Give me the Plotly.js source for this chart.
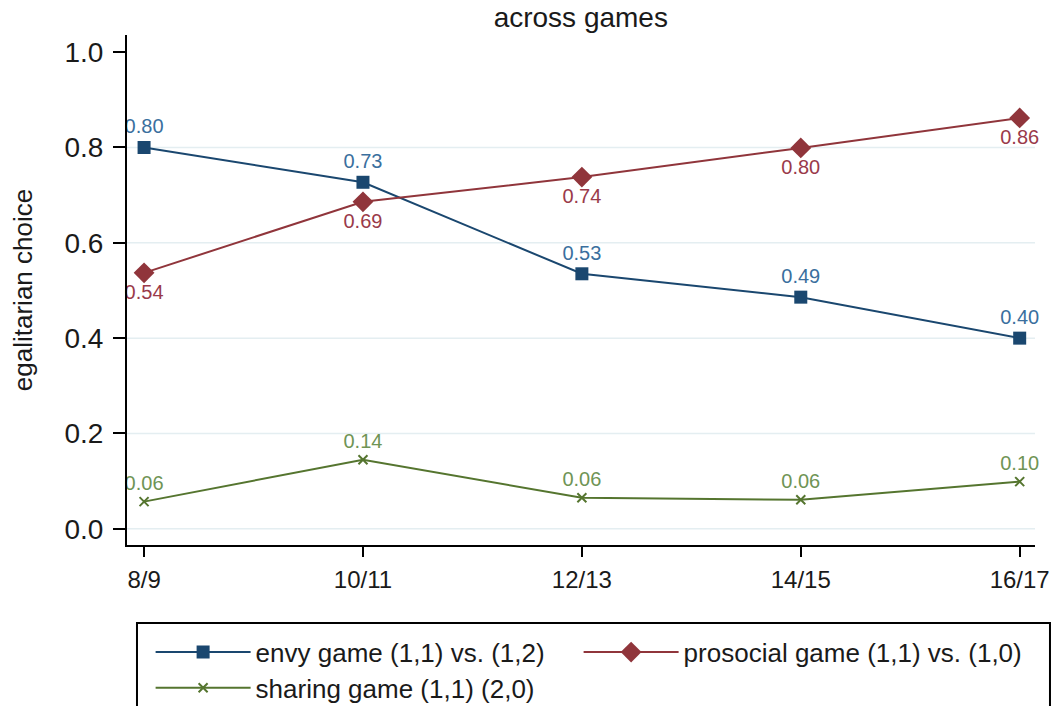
<!DOCTYPE html>
<html>
<head>
<meta charset="utf-8">
<script src="https://cdn.plot.ly/plotly-3.0.1.min.js"></script>
<style>html,body{margin:0;padding:0;background:#fff;}#chart{width:1056px;height:706px;}</style>
</head>
<body>
<div id="chart"></div>
<script>
const categories = ["8/9", "10/11", "12/13", "14/15", "16/17"];
const envyValues = [0.80, 0.727, 0.535, 0.486, 0.40];
const envyLabels = ["0.80", "0.73", "0.53", "0.49", "0.40"];
const prosocialValues = [0.537, 0.686, 0.738, 0.799, 0.862];
const prosocialLabels = ["0.54", "0.69", "0.74", "0.80", "0.86"];
const sharingValues = [0.057, 0.145, 0.065, 0.061, 0.099];
const sharingLabels = ["0.06", "0.14", "0.06", "0.06", "0.10"];
const yTicks = [0, 0.2, 0.4, 0.6, 0.8, 1.0];
const yTickText = ["0.0", "0.2", "0.4", "0.6", "0.8", "1.0"];
const yGridLines = [0, 0.2, 0.4, 0.6, 0.8];
const seriesNames = ["envy game (1,1) vs. (1,2)", "prosocial game (1,1) vs. (1,0)", "sharing game (1,1) (2,0)"];

const xIdx = categories.map((c, i) => i);
const baseFont = "Liberation Sans, Arial, sans-serif";

const traces = [
  {
    x: xIdx, y: envyValues, name: seriesNames[0], mode: "lines+markers+text",
    text: envyLabels, textposition: "top center",
    textfont: {family: baseFont, size: 20, color: "#3a6f9e"},
    line: {color: "#1a476f", width: 2},
    marker: {symbol: "square", size: 13, color: "#1a476f"},
    legend: "legend", legendwidth: 318, cliponaxis: false
  },
  {
    x: xIdx, y: prosocialValues, name: seriesNames[1], mode: "lines+markers+text",
    text: prosocialLabels, textposition: "bottom center",
    textfont: {family: baseFont, size: 20, color: "#9a3a4a"},
    line: {color: "#90353b", width: 2},
    marker: {symbol: "diamond", size: 16, color: "#90353b"},
    legend: "legend", cliponaxis: false
  },
  {
    x: xIdx, y: sharingValues, name: seriesNames[2], mode: "lines+markers+text",
    text: sharingLabels, textposition: "top center",
    textfont: {family: baseFont, size: 20, color: "#6f9455"},
    line: {color: "#55752f", width: 2},
    marker: {symbol: "x-thin", size: 9, color: "#55752f", line: {color: "#55752f", width: 2}},
    legend: "legend2", cliponaxis: false
  }
];

const gridShapes = yGridLines.map(v => ({
  type: "line", xref: "paper", yref: "y", x0: 0, x1: 1, y0: v, y1: v,
  line: {color: "#e4eef1", width: 1.5}, layer: "below"
}));

const layout = {
  width: 1056, height: 706,
  margin: {l: 127, r: 21, t: 35, b: 161, autoexpand: false},
  paper_bgcolor: "#ffffff", plot_bgcolor: "#ffffff",
  font: {family: baseFont, color: "#1a1a1a"},
  title: {text: "across games", font: {family: baseFont, size: 28, color: "#1a1a1a"}, x: 0.55, xanchor: "center", y: 0.975, yanchor: "middle"},
  xaxis: {
    range: [-0.078, 4.07], tickvals: xIdx, ticktext: categories,
    showgrid: false, zeroline: false, showline: true, linecolor: "#000", linewidth: 2,
    ticks: "outside", ticklen: 10, tickwidth: 2, tickcolor: "#000", ticklabelstandoff: 2,
    tickfont: {family: baseFont, size: 24, color: "#1a1a1a"}, automargin: false
  },
  yaxis: {
    range: [-0.034, 1.036], tickvals: yTicks, ticktext: yTickText,
    showgrid: false, zeroline: false,
    showline: true, linecolor: "#000", linewidth: 2,
    ticks: "outside", ticklen: 12, tickwidth: 2, tickcolor: "#000", ticklabelstandoff: 4,
    tickfont: {family: baseFont, size: 28, color: "#1a1a1a"}, automargin: false,
    title: {text: "egalitarian choice", font: {family: baseFont, size: 26, color: "#1a1a1a"}, standoff: 24}
  },
  showlegend: true,
  legend: {
    orientation: "h", x: 0.026, xanchor: "left", y: -0.164, yanchor: "top",
    font: {family: baseFont, size: 26, color: "#1a1a1a"},
    bgcolor: "rgba(0,0,0,0)", borderwidth: 0, itemwidth: 95
  },
  legend2: {
    orientation: "h", x: 0.026, xanchor: "left", y: -0.234, yanchor: "top",
    font: {family: baseFont, size: 26, color: "#1a1a1a"},
    bgcolor: "rgba(0,0,0,0)", borderwidth: 0, itemwidth: 95
  },
  shapes: gridShapes.concat([{
    type: "rect", xref: "paper", yref: "paper",
    x0: 0.011, x1: 1.0165, y0: -0.153, y1: -0.34,
    line: {color: "#000", width: 2}, fillcolor: "rgba(0,0,0,0)", layer: "above"
  }])
};

Plotly.newPlot("chart", traces, layout, {displayModeBar: false, staticPlot: true});
</script>
</body>
</html>
